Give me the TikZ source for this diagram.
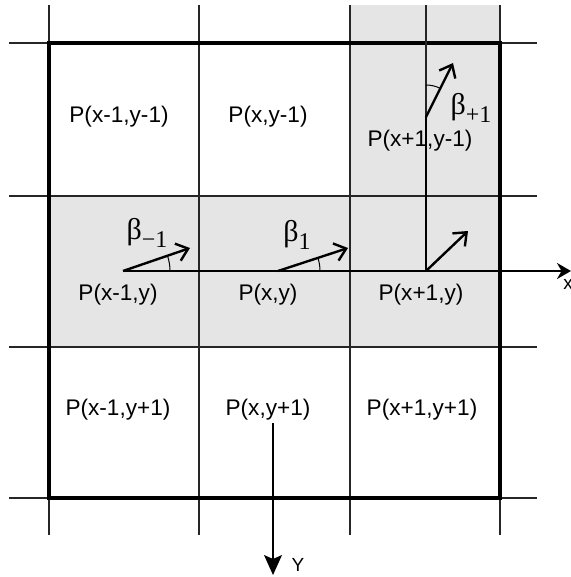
\documentclass[tikz,border=0pt]{standalone}
\usepackage{fontspec}
\setmainfont{Liberation Sans}
\newfontfamily\seriffont{Liberation Serif}
\usetikzlibrary{arrows.meta}
\begin{document}
\begin{tikzpicture}[x=0.5pt,y=-0.5pt,
  gridline/.style={line width=0.6pt, black!85},
  border/.style={line width=1.6pt},
  cell/.style={font=\fontsize{11.3}{13}\selectfont, inner sep=0pt},
  vec/.style={line width=1.2pt, -{Straight Barb[length=5.5pt,width=9pt,line width=1.2pt]}},
  axisline/.style={line width=1.2pt, -{Stealth[length=7pt,width=8pt]}},
  yaxis/.style={line width=0.6pt, -{Stealth[length=10pt,width=9pt,inset=2pt]}},
  ang/.style={line width=0.5pt},
  betalabel/.style={font=\seriffont\fontsize{15}{15}\selectfont, inner sep=0pt},
  subfont/.style={},
  axislabel/.style={font=\fontsize{9.5}{11}\selectfont, inner sep=0pt}]
\useasboundingbox (0,0) rectangle (571,577);
% shading
\fill[gray!20] (49,196) rectangle (500,347);
\fill[gray!20] (350,5) rectangle (500,196);
% grid
\foreach \x in {49,199,350,500} \draw[gridline] (\x,5) -- (\x,535);
\foreach \y in {43,196,347,498} \draw[gridline] (9,\y) -- (537,\y);
\draw[border] (49,43) rectangle (500,498);
% cell labels
\node[cell] (c11) at (119,117) {P(x-1,y-1)};
\node[cell] (c21) at (268,117) {P(x,y-1)};
\node[cell] (c31) at (420,141) {P(x+1,y-1)};
\node[cell] (c12) at (118,295) {P(x-1,y)};
\node[cell] (c22) at (268,295) {P(x,y)};
\node[cell] (c32) at (421,295) {P(x+1,y)};
\node[cell] (c13) at (118,410) {P(x-1,y+1)};
\node[cell] (c23) at (268,410) {P(x,y+1)};
\node[cell] (c33) at (422,410) {P(x+1,y+1)};
% points
\coordinate (O1) at (123,271);
\coordinate (O2) at (278,271);
\coordinate (O3) at (426,271);
\coordinate (O4) at (426,117);
\coordinate (Top) at (426,5);
\coordinate (T1) at (190,248);
\coordinate (T2) at (348,248);
\coordinate (T3) at (468,231);
\coordinate (T4) at (453,63);
\coordinate (Xend) at (571,271);
\coordinate (Ystart) at (273,423);
\coordinate (Yend) at (273,575);
% vertical line in the third column
\draw[gridline] (Top) -- (O4);
\draw[line width=1.1pt] (O4) -- (O3);
% x axis
\draw[axisline] (O1) -- (Xend);
\node[axislabel] (xl) at (568,284) {x};
% y axis
\draw[yaxis] (Ystart) -- (Yend);
\node[axislabel] (yl) at (298,565) {Y};
% vectors
\draw[vec] (O1) -- (T1);
\draw[vec] (O2) -- (T2);
\draw[vec] (O3) -- (T3);
\draw[vec] (O4) -- (T4);
% angle arcs
\draw[ang] (O1) ++(47,0) arc[start angle=0, end angle=-19, radius=47];
\draw[ang] (O2) ++(42,0) arc[start angle=0, end angle=-18, radius=42];
\draw[ang] (O4) ++(0,-32) arc[start angle=-90, end angle=-63.4, radius=32];
% beta labels
\node[betalabel] (bm1) at (147,233) {β\raisebox{-4pt}{\fontsize{12}{12}\selectfont −1}};
\node[betalabel] (bp0) at (297,235) {β\raisebox{-4pt}{\fontsize{12}{12}\selectfont 1}};
\node[betalabel] (bp1) at (471,108) {β\raisebox{-4pt}{\fontsize{12}{12}\selectfont +1}};
\end{tikzpicture}
\end{document}
